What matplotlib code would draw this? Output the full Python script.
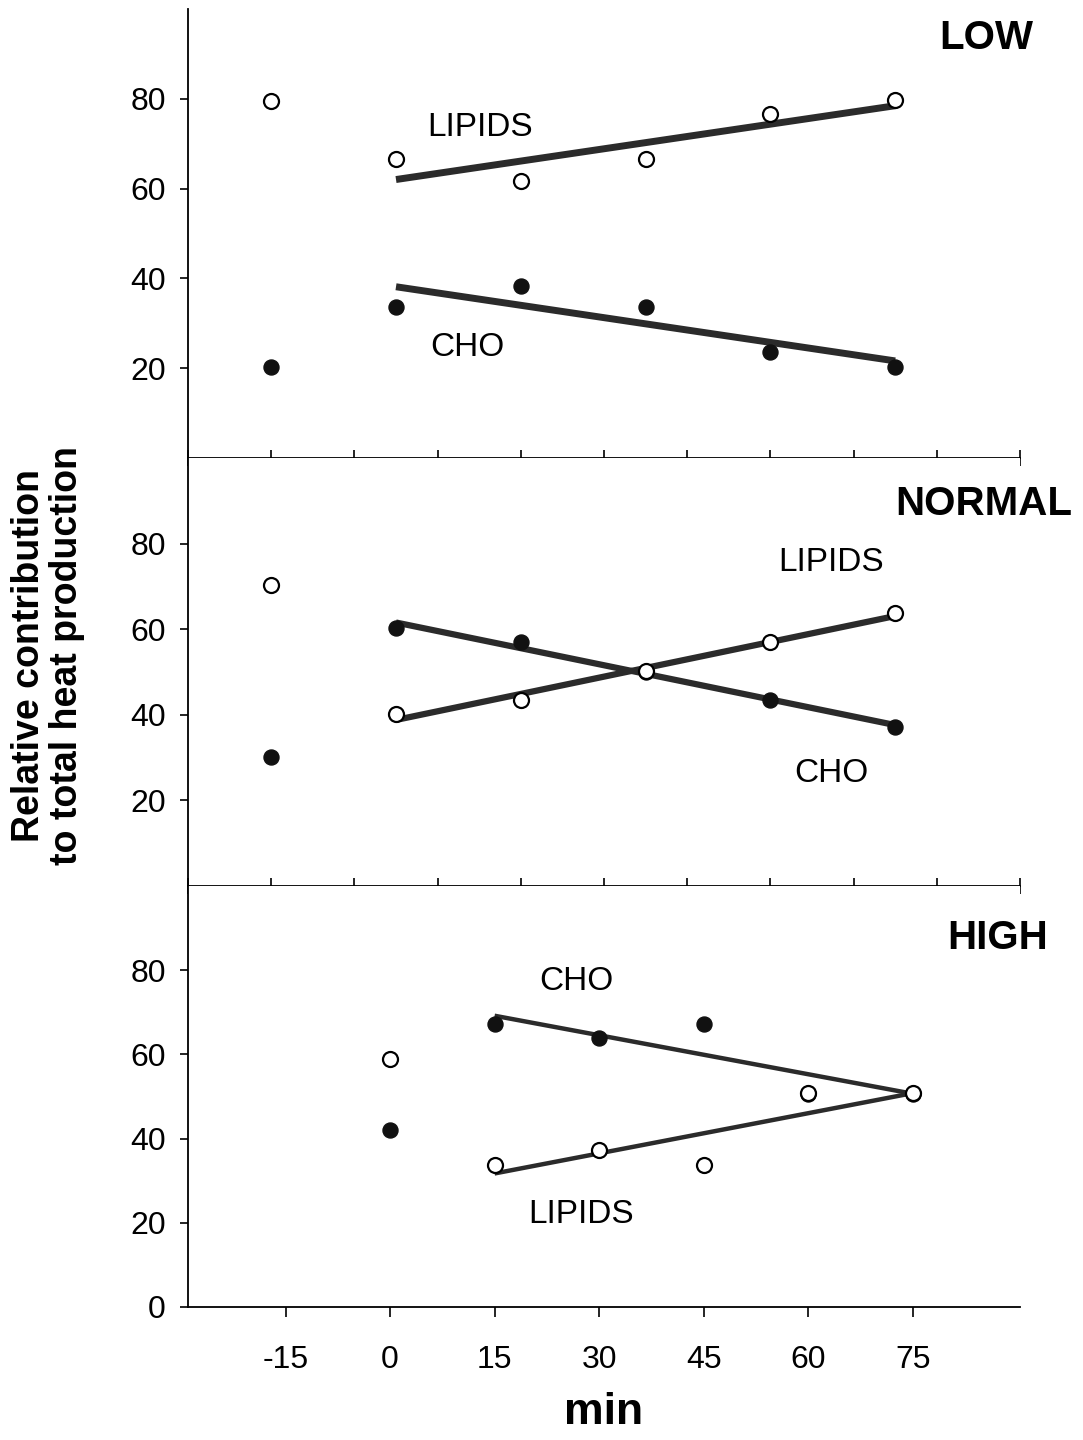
import numpy as np
import matplotlib
matplotlib.use("Agg")
import matplotlib.pyplot as plt

plt.rcParams['font.family'] = ['Liberation Sans', 'DejaVu Sans']
plt.rcParams['axes.unicode_minus'] = False

# upper panels: own x scale (tick units 0..10), six sampling points
up_x = [1, 2.5, 4, 5.5, 7, 8.5]
# bottom panel: minutes
high_x = [0, 15, 30, 45, 60, 75]

low_lip = [79.5, 66.6, 61.7, 66.6, 76.6, 79.7]
low_cho = [20.3, 33.6, 38.3, 33.6, 23.6, 20.3]
norm_lip = [70.3, 40.2, 43.5, 50.2, 57.0, 63.8]
norm_cho = [30.1, 60.3, 57.0, 50.0, 43.5, 37.1]
high_lip = [58.9, 33.7, 37.3, 33.7, 50.8, 50.8]
high_cho = [42.0, 67.2, 63.9, 67.2, 50.6, 50.7]

fig = plt.figure(figsize=(10.83, 14.4), dpi=100)
L, W = 188/1083, 832/1083
ax1 = fig.add_axes([L, 1 - 458/1440, W, 449/1440])
ax2 = fig.add_axes([L, 1 - 886/1440, W, 428/1440])
ax3 = fig.add_axes([L, 1 - 1307/1440, W, 421/1440])

LINE = '#2b2b2b'


def panel(ax, x, lip, cho, lw, first):
    x = np.asarray(x, float)
    for y in (cho, lip):
        y = np.asarray(y, float)
        k = np.polyfit(x[first:], y[first:], 1)
        ends = x[[first, -1]]
        ax.plot(ends, np.polyval(k, ends), color=LINE, lw=lw,
                solid_capstyle='butt', zorder=2)
    ax.plot(x, cho, 'o', ms=10.8, mfc='#111111', mec='#111111', zorder=3)
    ax.plot(x, lip, 'o', ms=10.8, mfc='white', mec='black', mew=1.6, zorder=4)
    ax.set_ylim(0, 100)
    for s in ('top', 'right'):
        ax.spines[s].set_visible(False)
    for s in ('left', 'bottom'):
        ax.spines[s].set_linewidth(1.3)
    ax.tick_params(axis='y', direction='out', length=6, width=1.2,
                   labelsize=23, pad=10)


panel(ax1, up_x, low_lip, low_cho, 5.0, 1)
panel(ax2, up_x, norm_lip, norm_cho, 4.5, 1)
panel(ax3, high_x, high_lip, high_cho, 3.2, 1)

for ax in (ax1, ax2):
    ax.set_xlim(0, 10)
    ax.set_xticks(range(0, 11))
    ax.set_yticks([20, 40, 60, 80])
    ax.tick_params(axis='x', direction='inout', length=12, width=1.2,
                   labelbottom=False)

ax3.set_xlim(-29, 90.4)
ax3.set_xticks([-15, 0, 15, 30, 45, 60, 75])
ax3.set_yticks([0, 20, 40, 60, 80])
ax3.tick_params(axis='x', direction='out', length=7, width=1.2,
                labelsize=23, pad=20)

title_kw = dict(fontsize=29, fontweight='bold', ha='center', va='center')
lab_kw = dict(fontsize=24, ha='center', va='center')

ax1.text(9.59, 93.6, 'LOW', **title_kw)
ax1.text(3.51, 73.7, 'LIPIDS', **lab_kw)
ax1.text(3.36, 24.5, 'CHO', **lab_kw)

ax2.text(9.56, 89.3, 'NORMAL', **title_kw)
ax2.text(7.73, 75.5, 'LIPIDS', **lab_kw)
ax2.text(7.73, 26.2, 'CHO', **lab_kw)

ax3.text(87.2, 87.6, 'HIGH', **title_kw)
ax3.text(26.7, 77.2, 'CHO', **lab_kw)
ax3.text(27.4, 21.9, 'LIPIDS', **lab_kw)

fig.text(48/1083, 1 - 655/1440,
         'Relative contribution\nto total heat production',
         rotation=90, ha='center', va='center', fontsize=27,
         fontweight='bold', linespacing=1.1)
fig.text(604/1083, 1 - 1413/1440, 'min', ha='center', va='center',
         fontsize=32, fontweight='bold')

fig.savefig('out.png', dpi=100)
